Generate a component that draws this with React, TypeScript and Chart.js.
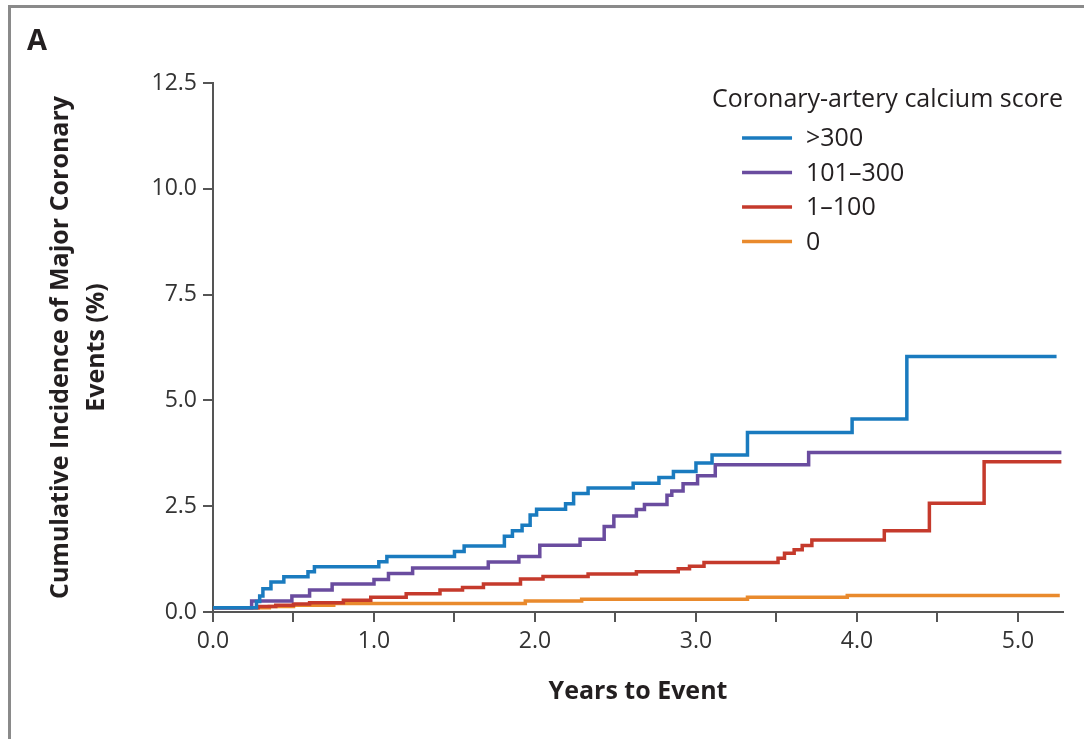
import React, { useEffect, useRef } from "react";
import { Chart, registerables } from "chart.js";

Chart.register(...registerables);

// Kaplan-Meier style cumulative incidence (%) by coronary-artery calcium score.
// Each pair is (time of step in years, cumulative incidence after that step).
const seriesLabels = [">300", "101–300", "1–100", "0"];
const seriesColors = ["#1a7bbf", "#6a4c9f", "#c53a2c", "#e98a2d"];

const over300Years = [0, 0.27, 0.29, 0.31, 0.36, 0.44, 0.59, 0.63, 1.03, 1.08, 1.5, 1.56, 1.81, 1.86, 1.92, 1.97, 2.01, 2.19, 2.24, 2.33, 2.61, 2.77, 2.86, 3.0, 3.1, 3.32, 3.97, 4.31, 5.24];
const over300Pct = [0.1, 0.25, 0.38, 0.55, 0.71, 0.83, 0.95, 1.07, 1.19, 1.31, 1.43, 1.56, 1.79, 1.92, 2.05, 2.29, 2.43, 2.56, 2.8, 2.93, 3.04, 3.18, 3.32, 3.52, 3.71, 4.24, 4.56, 6.04, 6.04];

const mid101to300Years = [0, 0.24, 0.49, 0.6, 0.74, 1.0, 1.09, 1.24, 1.71, 1.9, 2.03, 2.28, 2.43, 2.49, 2.63, 2.68, 2.82, 2.85, 2.92, 3.01, 3.12, 3.7, 5.27];
const mid101to300Pct = [0.1, 0.26, 0.38, 0.52, 0.66, 0.77, 0.91, 1.04, 1.18, 1.31, 1.58, 1.72, 2.02, 2.27, 2.42, 2.54, 2.76, 2.86, 3.03, 3.22, 3.48, 3.77, 3.77];

const low1to100Years = [0, 0.28, 0.39, 0.5, 0.6, 0.81, 0.98, 1.2, 1.41, 1.55, 1.68, 1.91, 2.05, 2.33, 2.63, 2.89, 2.96, 3.05, 3.51, 3.55, 3.61, 3.66, 3.72, 4.17, 4.45, 4.79, 5.27];
const low1to100Pct = [0.1, 0.13, 0.16, 0.19, 0.22, 0.28, 0.35, 0.43, 0.52, 0.58, 0.66, 0.78, 0.84, 0.9, 0.95, 1.02, 1.08, 1.17, 1.27, 1.39, 1.47, 1.57, 1.7, 1.92, 2.57, 3.55, 3.55];

const zeroYears = [0, 0.35, 0.5, 0.75, 1.94, 2.29, 3.32, 3.94, 5.26];
const zeroPct = [0.1, 0.13, 0.16, 0.2, 0.26, 0.3, 0.35, 0.39, 0.39];

const xTickValues = [0, 0.5, 1, 1.5, 2, 2.5, 3, 3.5, 4, 4.5, 5];
const yTickValues = [0, 2.5, 5, 7.5, 10, 12.5];

const panelLetter = "A";
const legendTitle = "Coronary-artery calcium score";
const xTitle = "Years to Event";
const yTitle = ["Cumulative Incidence of Major Coronary", "Events (%)"];

const FONT = '"Open Sans", "DejaVu Sans", sans-serif';
const AXIS_COLOR = "#555555";
const TEXT_COLOR = "#231f20";

const seriesYears = [over300Years, mid101to300Years, low1to100Years, zeroYears];
const seriesPct = [over300Pct, mid101to300Pct, low1to100Pct, zeroPct];

const panelPlugin = {
  id: "panelDecor",
  beforeDraw(chart: any) {
    const { ctx, width, height } = chart;
    ctx.save();
    ctx.fillStyle = "#ffffff";
    ctx.fillRect(0, 0, width, height);
    // panel frame (top and left rules)
    ctx.fillStyle = "#8a8a8a";
    ctx.fillRect(8, 5, width - 8, 3);
    ctx.fillRect(8, 5, 3, height - 5);
    // panel letter
    ctx.fillStyle = TEXT_COLOR;
    ctx.font = `700 29px ${FONT}`;
    ctx.textAlign = "left";
    ctx.textBaseline = "alphabetic";
    ctx.fillText(panelLetter, 27, 50);
    ctx.restore();
  },
  afterDraw(chart: any) {
    const { ctx, chartArea } = chart;
    ctx.save();
    ctx.fillStyle = TEXT_COLOR;
    ctx.font = `400 25px ${FONT}`;
    ctx.textAlign = "right";
    ctx.textBaseline = "alphabetic";
    ctx.fillText(legendTitle, chartArea.right, 107);
    const titleLeft = chartArea.right - ctx.measureText(legendTitle).width;
    ctx.textAlign = "left";
    ctx.textBaseline = "middle";
    chart.data.datasets.forEach((ds: any, i: number) => {
      const y = 138 + i * 34.5;
      const x0 = titleLeft + 30;
      ctx.strokeStyle = ds.borderColor;
      ctx.lineWidth = 3.5;
      ctx.beginPath();
      ctx.moveTo(x0, y);
      ctx.lineTo(x0 + 50, y);
      ctx.stroke();
      ctx.fillText(ds.label, x0 + 64, y + 1);
    });
    ctx.restore();
  },
};

export default function App() {
  const canvasRef = useRef<HTMLCanvasElement | null>(null);

  useEffect(() => {
    const canvas = canvasRef.current;
    if (!canvas) return;
    const chart = new Chart(canvas, {
      type: "line",
      data: {
        datasets: seriesLabels.map((label, i) => ({
          label,
          data: seriesYears[i].map((x, j) => ({ x, y: seriesPct[i][j] })),
          borderColor: seriesColors[i],
          backgroundColor: seriesColors[i],
          borderWidth: 3.5,
          pointRadius: 0,
          stepped: "before" as const,
          fill: false,
          borderJoinStyle: "miter" as const,
        })),
      },
      options: {
        responsive: false,
        animation: false,
        events: [],
        layout: { padding: { left: 0, right: 21, top: 83, bottom: 0 } },
        plugins: {
          legend: { display: false },
          tooltip: { enabled: false },
        },
        scales: {
          x: {
            type: "linear",
            min: 0,
            max: 5.28,
            afterBuildTicks: (scale: any) => {
              scale.ticks = xTickValues.map((value) => ({ value }));
            },
            afterFit: (scale: any) => {
              scale.height = 127;
            },
            ticks: {
              autoSkip: false,
              maxRotation: 0,
              padding: 6,
              color: "#333333",
              font: { family: FONT, size: 23 },
              callback: (v: any) => (Number(v) % 1 === 0 ? Number(v).toFixed(1) : ""),
            },
            grid: {
              drawOnChartArea: false,
              drawTicks: true,
              tickLength: 10,
              color: AXIS_COLOR,
              lineWidth: 2,
            },
            border: { display: true, color: AXIS_COLOR, width: 2 },
            title: {
              display: true,
              text: xTitle,
              color: TEXT_COLOR,
              font: { family: FONT, size: 25, weight: "bold", lineHeight: 1.2 },
              padding: { top: 0, bottom: 32 },
            },
          },
          y: {
            type: "linear",
            min: 0,
            max: 12.5,
            afterBuildTicks: (scale: any) => {
              scale.ticks = yTickValues.map((value) => ({ value }));
            },
            afterFit: (scale: any) => {
              scale.width = 213;
            },
            ticks: {
              padding: 6,
              color: "#333333",
              font: { family: FONT, size: 23 },
              callback: (v: any) => Number(v).toFixed(1),
            },
            grid: {
              drawOnChartArea: false,
              drawTicks: true,
              tickLength: 10,
              color: AXIS_COLOR,
              lineWidth: 2,
            },
            border: { display: true, color: AXIS_COLOR, width: 2 },
            title: {
              display: true,
              text: yTitle,
              color: TEXT_COLOR,
              font: { family: FONT, size: 25, weight: "bold", lineHeight: 1.44 },
              padding: { top: 43, bottom: 0 },
            },
          },
        },
      },
      plugins: [panelPlugin],
    });
    return () => chart.destroy();
  }, []);

  return (
    <div style={{ position: "fixed", left: 0, top: 0, width: 1084, height: 739, background: "#fff" }}>
      <canvas ref={canvasRef} width={1084} height={739} style={{ display: "block" }} />
    </div>
  );
}
